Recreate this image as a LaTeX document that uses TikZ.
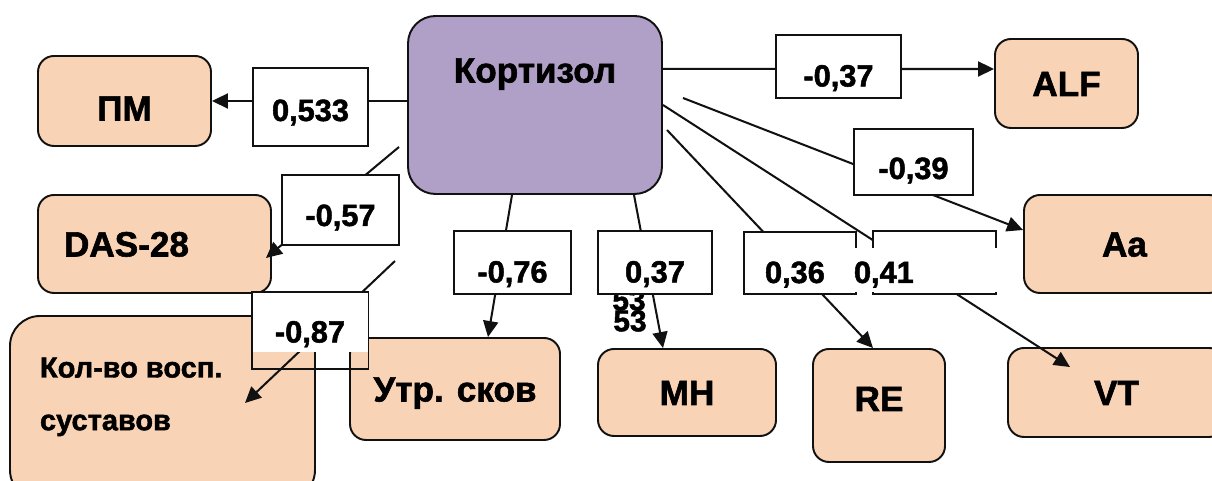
\documentclass[tikz,border=0pt]{standalone}
\usepackage{fontspec}
\setmainfont{Liberation Sans}[BoldFeatures={FakeBold=1.6}]
\usepackage{tikz}
\usetikzlibrary{arrows.meta, positioning}
\definecolor{kzpurple}{HTML}{B09FC6}
\definecolor{kzpeach}{HTML}{F9D3B5}
\definecolor{kzline}{HTML}{111111}

\begin{document}
\begin{tikzpicture}[
    font=\bfseries\fontsize{20}{24}\selectfont,
    box/.style={rounded corners=3.2mm, draw=kzline, line width=1.1pt, fill=kzpeach, inner sep=0pt,
      text height=5mm, text depth=0mm, align=center},
    hub/.style={box, fill=kzpurple, rounded corners=5.5mm},
    val/.style={draw=kzline, fill=white, line width=1.1pt, inner sep=0pt,
      font=\bfseries\fontsize{17.5}{21}\selectfont, text height=8.4mm, text depth=0.4mm},
    arr/.style={-{Triangle[length=3.2mm, width=3mm]}, line width=1.15pt, draw=kzline}
  ]
    \useasboundingbox (0,0) rectangle (24.24,9.62);
    \clip (0,0) rectangle (24.24,9.62);

    % central node and targets
    \node[hub, minimum width=5.08cm, minimum height=3.56cm] (cort) at (10.70,7.52) {};
    \node[text height=5mm, text depth=0mm] (cortname) at (10.70,8.22) {Кортизол};
    \node[box, minimum width=3.46cm, minimum height=1.80cm, text height=7.8mm] (pm) at (2.49,7.60) {ПМ};
    \node[box, minimum width=4.66cm, minimum height=1.96cm, text width=3.62cm, align=left, inner xsep=5.2mm] (das) at (3.09,4.74) {DAS-28};
    \node[box, rounded corners=6mm, minimum width=6.10cm, minimum height=3.68cm, inner xsep=6mm,
      font=\bfseries\fontsize{16.5}{30}\selectfont, text height=4.5mm, text depth=16.7mm] (kol) at (3.25,1.46)
      {\parbox[t]{4.9cm}{Кол-во восп.\\суставов}};
    \node[box, minimum width=4.20cm, minimum height=2.04cm] (utr) at (9.10,1.84) {Утр. сков};
    \node[box, minimum width=3.56cm, minimum height=1.74cm] (mn) at (13.74,1.77) {МН};
    \node[box, minimum width=2.64cm, minimum height=2.26cm, text depth=2.8mm] (re) at (17.58,1.51) {RE};
    \node[box, minimum width=2.86cm, minimum height=1.78cm] (alf) at (21.33,7.95) {ALF};
    \node[box, minimum width=4.02cm, minimum height=1.96cm] (aa) at (22.49,4.74) {Aa};
    \node[box, minimum width=4.34cm, minimum height=1.78cm] (vt) at (22.33,1.77) {VT};

    % links
    \coordinate (s57) at (7.98,6.68);
    \coordinate (s87) at (7.90,4.40);
    \coordinate (s36) at (13.34,7.02);
    \coordinate (s39) at (13.66,7.66);
    \draw[arr] (cort.west |- pm.east) -- (pm.east);
    \draw[arr] (s57) -- ([xshift=-1.2mm, yshift=-2.8mm]das.east);
    \draw[arr] (s87) -- ([xshift=16.5mm, yshift=1mm]kol.center);
    \draw[arr] ([xshift=-4.6mm]cort.south) -- ([xshift=6.6mm]utr.north);
    \draw[arr] ([xshift=19.8mm]cort.south) -- ([xshift=-4.8mm]mn.north);
    \draw[arr] (s36) -- ([xshift=-1.2mm]re.north);
    \draw[arr] (cort.east) -- ([xshift=-9.3mm, yshift=-4mm]vt.north);
    \draw[arr] (s39) -- ([yshift=2.8mm]aa.west);
    \draw[arr] ([yshift=7.2mm]cort.east) -- ([yshift=2.9mm]alf.west);

    \node[font=\bfseries\fontsize{17}{20}\selectfont, inner sep=0pt] (n53a) at (12.58,3.62) {53};
    \node[font=\bfseries\fontsize{17}{20}\selectfont, inner sep=0pt] (n53b) at (12.60,3.20) {53};

    % coefficients
    \node[val, minimum width=2.30cm, minimum height=1.56cm, text height=6mm] (v533) at (6.21,7.48) {0,533};
    \node[val, minimum width=2.34cm, minimum height=1.40cm, text height=6.8mm] (v57) at (6.81,5.42) {-0,57};
    \node[val, draw=none, minimum width=2.30cm, minimum height=1.18cm] (v87) at (6.20,3.17) {-0,87};
    \draw[line width=1.1pt, draw=kzline] (v87.north west) rectangle ([yshift=-3.2mm]v87.south east);
    \node[val, minimum width=2.34cm, minimum height=1.26cm] (v76) at (10.25,4.37) {-0,76};
    \node[val, minimum width=2.28cm, minimum height=1.26cm] (v37b) at (13.10,4.37) {0,37};
    \node[val, minimum width=2.24cm, minimum height=1.24cm] (v36) at (16.00,4.36) {};
    \node[val, minimum width=2.46cm, minimum height=1.26cm] (v41) at (18.69,4.37) {};
    \node[val, draw=none, text width=5.04cm, align=left, minimum height=0.88cm, text height=5.6mm] (v3641) at (17.44,4.22)
      {\hspace*{3.8mm}\makebox[17.8mm][l]{0,36}0,41};
    \node[val, minimum width=2.50cm, minimum height=1.26cm] (v37a) at (16.77,8.29) {-0,37};
    \node[val, minimum width=2.38cm, minimum height=1.32cm, text height=7.2mm] (v39) at (18.27,6.38) {-0,39};
  \end{tikzpicture}
\end{document}
